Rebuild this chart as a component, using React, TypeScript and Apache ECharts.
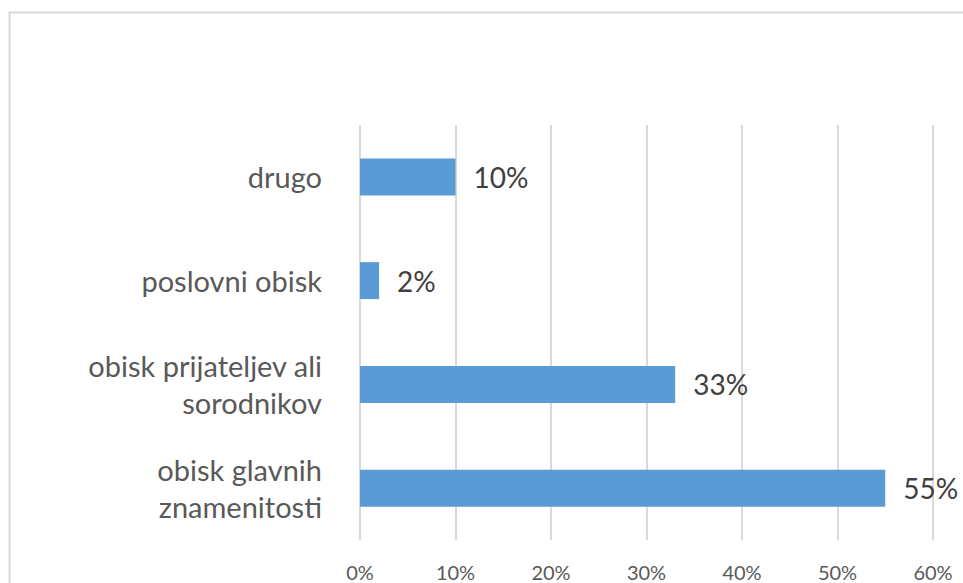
import React, { useEffect, useRef } from "react";
import * as echarts from "echarts";

const categories = [
  "obisk glavnih\nznamenitosti",
  "obisk prijateljev ali\nsorodnikov",
  "poslovni obisk",
  "drugo",
];
const values = [55, 33, 2, 10];
const axisMax = 60;
const axisInterval = 10;

export default function App() {
  const ref = useRef<HTMLDivElement>(null);
  useEffect(() => {
    document.body.style.margin = "0";
    const chart = echarts.init(ref.current!, undefined, { renderer: "svg" });
    chart.setOption({
      animation: false,
      backgroundColor: "#ffffff",
      textStyle: { fontFamily: "Lato" },
      graphic: [
        {
          type: "rect",
          shape: { x: 9.5, y: 12.5, width: 1000, height: 700 },
          style: { fill: "none", stroke: "#d9d9d9", lineWidth: 2 },
          silent: true,
        },
      ],
      grid: { left: 360, right: 30, top: 125, bottom: 43, containLabel: false },
      xAxis: {
        type: "value",
        min: 0,
        max: axisMax,
        interval: axisInterval,
        axisLine: { show: false },
        axisTick: { show: false },
        splitLine: { show: true, lineStyle: { color: "#d9d9d9", width: 2 } },
        axisLabel: {
          formatter: (v: number) => v + "%",
          color: "#595959",
          fontSize: 20,
          fontFamily: "Lato",
          margin: 22,
        },
      },
      yAxis: {
        type: "category",
        data: categories,
        axisLine: { show: false },
        axisTick: { show: false },
        axisLabel: {
          color: "#595959",
          fontSize: 29,
          fontFamily: "Lato",
          lineHeight: 37,
          margin: 38,
          align: "right",
        },
      },
      series: [
        {
          type: "bar",
          data: values,
          barWidth: 37,
          itemStyle: { color: "#5B9BD5" },
          label: {
            show: true,
            position: "right",
            distance: 18,
            formatter: (p: any) => p.value + "%",
            color: "#404040",
            fontSize: 28,
            fontFamily: "Lato",
          },
        },
      ],
    });
    return () => chart.dispose();
  }, []);
  return <div ref={ref} style={{ width: 963, height: 583 }} />;
}
